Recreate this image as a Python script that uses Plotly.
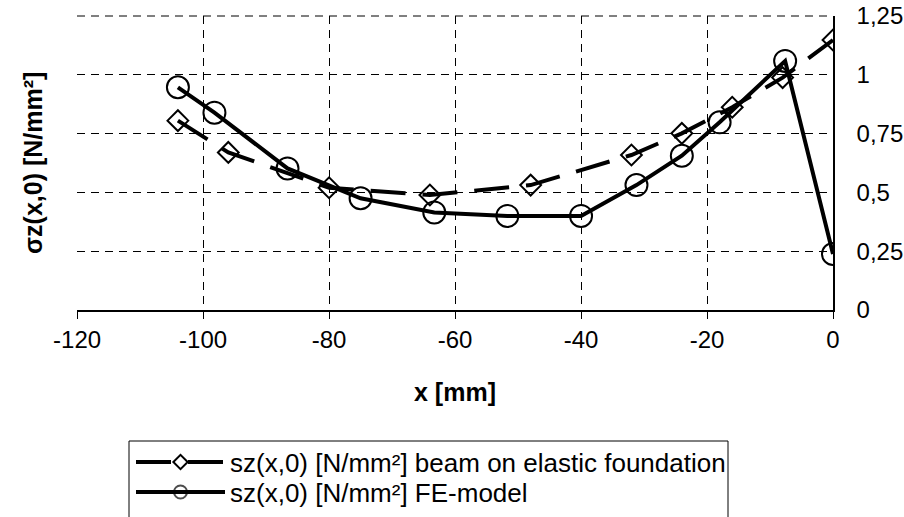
import plotly.graph_objects as go

# ---- data ----
x_beam = [-104, -96, -80, -64, -48, -32, -24, -16, -8, 0]
y_beam = [0.805, 0.670, 0.520, 0.489, 0.531, 0.659, 0.751, 0.862, 0.988, 1.148]
x_fe = [-104, -98.2, -86.6, -75, -63.3, -51.7, -40, -31.2, -24, -18, -7.6, 0]
y_fe = [0.947, 0.839, 0.602, 0.475, 0.415, 0.400, 0.400, 0.531, 0.656, 0.798, 1.059, 0.238]

name_beam = "sz(x,0) [N/mm²] beam on elastic foundation"
name_fe = "sz(x,0) [N/mm²] FE-model"

x_ticks = [-120, -100, -80, -60, -40, -20, 0]
x_tick_text = ["-120", "-100", "-80", "-60", "-40", "-20", "0"]
y_ticks = [0, 0.25, 0.5, 0.75, 1, 1.25]
y_tick_text = ["0", "0,25", "0,5", "0,75", "1", "1,25"]

x_title = "x [mm]"
y_title = "σz(x,0) [N/mm²]"

# ---- layout constants (pixels) ----
W, H = 904, 517
L, R, T, B = 77, 833, 16, 310
PW = R - L
PH_ALL = H - T


def px_x(X):
    return (X - L) / PW


def px_y(Y):
    return (H - Y) / PH_ALL


FONT = "Liberation Sans, Arial, sans-serif"
FS_TICK = 24
FS_TITLE = 25
FS_LEG = 26
DASH = "35px,17px"
GRID_DASH = "8px,6px"

fig = go.Figure()

fig.add_trace(go.Scatter(
    x=x_beam, y=y_beam, mode="lines+markers", name=name_beam,
    line=dict(color="black", width=4, dash=DASH),
    marker=dict(symbol="diamond-open", size=16, color="black", line=dict(width=2, color="black")),
    showlegend=False,
))
fig.add_trace(go.Scatter(
    x=x_fe, y=y_fe, mode="lines+markers", name=name_fe,
    line=dict(color="black", width=4),
    marker=dict(symbol="circle-open", size=22, color="black", line=dict(width=2, color="black")),
    showlegend=False,
))

# ---- legend keys (drawn on a hidden helper axis) ----
key_x = [0, 0.5, 1]
rows = [0.75, 0.25]
fig.add_trace(go.Scatter(
    x=key_x, y=[rows[0]] * 3, mode="lines", xaxis="x2", yaxis="y2",
    line=dict(color="black", width=4, dash=DASH), showlegend=False, hoverinfo="skip",
))
fig.add_trace(go.Scatter(
    x=[0.5], y=[rows[0]], mode="markers", xaxis="x2", yaxis="y2",
    marker=dict(symbol="diamond-open", size=11, color="black", line=dict(width=2, color="black")),
    showlegend=False, hoverinfo="skip",
))
fig.add_trace(go.Scatter(
    x=key_x, y=[rows[1]] * 3, mode="lines+markers", xaxis="x2", yaxis="y2",
    line=dict(color="black", width=4),
    marker=dict(symbol="circle-open", size=[0, 13, 0], color="black", line=dict(width=2, color="black")),
    showlegend=False, hoverinfo="skip",
))

fig.update_layout(
    width=W, height=H,
    margin=dict(l=L, r=W - R, t=T, b=0, pad=0, autoexpand=False),
    paper_bgcolor="white", plot_bgcolor="white",
    font=dict(family=FONT, size=FS_TICK, color="black"),
    separators=",.",
    showlegend=False,
    xaxis=dict(
        range=[-120.02, 0], domain=[0, 1], anchor="y", automargin=False,
        tickvals=x_ticks, ticktext=x_tick_text,
        showgrid=True, gridcolor="black", gridwidth=1, griddash=GRID_DASH,
        showline=True, linecolor="black", linewidth=1.5,
        ticks="outside", ticklen=7, tickcolor="black", tickwidth=1,
        zeroline=False, tickfont=dict(size=FS_TICK),
    ),
    yaxis=dict(
        range=[0, 1.25], domain=[px_y(B), 1], anchor="x", side="right", automargin=False,
        tickvals=y_ticks, ticktext=y_tick_text,
        showgrid=True, gridcolor="black", gridwidth=1, griddash=GRID_DASH,
        showline=True, linecolor="black", linewidth=1.5,
        ticks="", ticklabelstandoff=17,
        zeroline=False, tickfont=dict(size=FS_TICK),
    ),
    xaxis2=dict(range=[0, 1], domain=[px_x(136), px_x(225)], anchor="y2", visible=False),
    yaxis2=dict(range=[0, 1], domain=[px_y(507), px_y(447)], anchor="x2", visible=False),
    annotations=[
        dict(text=f"<b>{x_title}</b>", xref="paper", yref="paper", x=0.5, y=px_y(392),
             xanchor="center", yanchor="middle", showarrow=False, font=dict(size=FS_TITLE)),
        dict(text=f"<b>{y_title}</b>", xref="paper", yref="paper", x=px_x(33), y=px_y(163),
             xanchor="center", yanchor="middle", textangle=-90, showarrow=False, font=dict(size=FS_TITLE)),
        dict(text=name_beam, xref="paper", yref="paper", x=px_x(228), y=px_y(463),
             xanchor="left", yanchor="middle", showarrow=False, font=dict(size=FS_LEG)),
        dict(text=name_fe, xref="paper", yref="paper", x=px_x(228), y=px_y(493),
             xanchor="left", yanchor="middle", showarrow=False, font=dict(size=FS_LEG)),
    ],
    shapes=[
        # top frame edge (dashed like the grid)
        dict(type="line", xref="x domain", yref="y domain", x0=0, x1=1, y0=1, y1=1,
             line=dict(color="black", width=1, dash=GRID_DASH), layer="below"),
        dict(type="rect", xref="paper", yref="paper",
             x0=px_x(129), x1=px_x(728), y0=px_y(530), y1=px_y(441),
             line=dict(color="black", width=1), fillcolor="rgba(0,0,0,0)", layer="above"),
    ],
)

fig.write_html(
    "out.html",
    config={"displayModeBar": False},
    post_script="document.body.style.margin='0';document.body.style.overflow='hidden';",
)
